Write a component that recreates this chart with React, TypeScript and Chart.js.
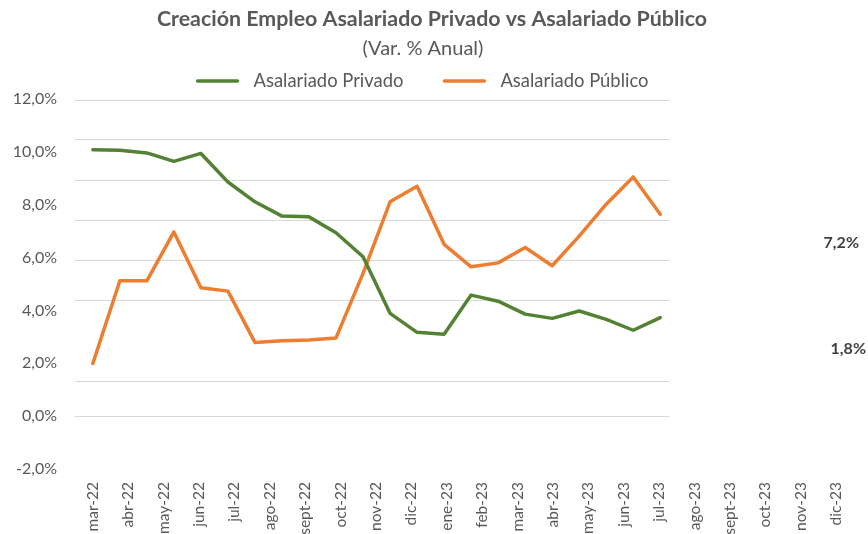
import React, { useEffect, useRef } from "react";
import { Chart, registerables } from "chart.js";

Chart.register(...registerables);

const months = [
  "mar-22", "abr-22", "may-22", "jun-22", "jul-22", "ago-22", "sept-22", "oct-22",
  "nov-22", "dic-22", "ene-23", "feb-23", "mar-23", "abr-23", "may-23", "jun-23",
  "jul-23", "ago-23", "sept-23", "oct-23", "nov-23", "dic-23",
];

const privado = [
  10.08, 10.06, 9.96, 9.64, 9.94, 8.86, 8.11, 7.57, 7.54, 6.94, 6.03,
  3.89, 3.17, 3.1, 4.58, 4.35, 3.86, 3.7, 3.98, 3.66, 3.25, 3.73,
];

const publico = [
  1.99, 5.12, 5.12, 6.97, 4.86, 4.73, 2.79, 2.85, 2.88, 2.96, 5.4,
  8.11, 8.7, 6.5, 5.65, 5.8, 6.38, 5.69, 6.81, 8.02, 9.05, 7.64,
];

const yTicks = [-2, 0, 2, 4, 6, 8, 10, 12];
const gridValues = [11.98, 10.47, 8.95, 7.43, 5.9, 4.39, 1.32, 0];

const seriesNames = ["Asalariado Privado", "Asalariado Público"];
const seriesColors = ["#548235", "#ED7D31"];

const endLabels = ["7,2%", "1,8%"];
const endLabelValues = [6.55, 2.53];

const titleText = "Creación Empleo Asalariado Privado vs Asalariado Público";
const subtitleText = "(Var. % Anual)";

const FONT = "Lato, 'Open Sans', sans-serif";
const TEXT = "#595959";

const fmt = (v: number) => v.toFixed(1).replace(".", ",") + "%";

const decor = {
  id: "decor",
  beforeDatasetsDraw(chart: any) {
    const ctx = chart.ctx;
    const y = chart.scales.y;
    const xd = chart.scales.xd;
    const left = chart.chartArea.left;
    const right = xd.getPixelForValue(privado.length - 1 + 0.33);
    ctx.save();
    ctx.strokeStyle = "#D9D9D9";
    ctx.lineWidth = 1.2;
    gridValues.forEach((v) => {
      const py = Math.round(y.getPixelForValue(v)) + 0.5;
      ctx.beginPath();
      ctx.moveTo(left, py);
      ctx.lineTo(right, py);
      ctx.stroke();
    });
    ctx.restore();
  },
  afterDraw(chart: any) {
    const ctx = chart.ctx;
    ctx.save();
    ctx.textBaseline = "middle";
    ctx.fillStyle = TEXT;
    // title
    ctx.font = `bold 21.4px ${FONT}`;
    ctx.textAlign = "center";
    ctx.fillText(titleText, 432, 19);
    ctx.font = `20px ${FONT}`;
    ctx.fillText(subtitleText, 423, 49);
    // legend
    ctx.font = `18.4px ${FONT}`;
    ctx.textAlign = "left";
    const lineW = 40;
    const gapText = 16;
    const gapItem = 41;
    const w0 = ctx.measureText(seriesNames[0]).width;
    const w1 = ctx.measureText(seriesNames[1]).width;
    const total = lineW + gapText + w0 + gapItem + lineW + gapText + w1;
    let x = 423 - total / 2;
    const ly = 81;
    [0, 1].forEach((i) => {
      ctx.strokeStyle = seriesColors[i];
      ctx.lineWidth = 3.5;
      ctx.lineCap = "round";
      ctx.beginPath();
      ctx.moveTo(x, ly);
      ctx.lineTo(x + lineW, ly);
      ctx.stroke();
      x += lineW + gapText;
      ctx.fillStyle = TEXT;
      ctx.fillText(seriesNames[i], x, ly);
      x += (i === 0 ? w0 : w1) + gapItem;
    });
    // end labels
    const y = chart.scales.y;
    ctx.font = `bold 16px ${FONT}`;
    ctx.fillStyle = "#404040";
    ctx.textAlign = "right";
    const ex = [859, 866];
    endLabels.forEach((t, i) => {
      ctx.fillText(t, ex[i], y.getPixelForValue(endLabelValues[i]));
    });
    ctx.restore();
  },
};

export default function App() {
  const ref = useRef<HTMLCanvasElement | null>(null);

  useEffect(() => {
    if (!ref.current) return;
    const mk = (vals: number[]) => vals.map((v, i) => ({ x: i, y: v }));
    const chart = new Chart(ref.current, {
      type: "line",
      data: {
        labels: months,
        datasets: [
          {
            label: seriesNames[0],
            data: mk(privado),
            borderColor: seriesColors[0],
            backgroundColor: seriesColors[0],
            borderWidth: 3.5,
            pointRadius: 0,
            tension: 0,
            borderCapStyle: "round",
            borderJoinStyle: "round",
            xAxisID: "xd",
          },
          {
            label: seriesNames[1],
            data: mk(publico),
            borderColor: seriesColors[1],
            backgroundColor: seriesColors[1],
            borderWidth: 3.5,
            pointRadius: 0,
            tension: 0,
            borderCapStyle: "round",
            borderJoinStyle: "round",
            xAxisID: "xd",
          },
        ] as any,
      },
      options: {
        animation: false,
        responsive: false,
        layout: { padding: { top: 99, right: 5, left: 0, bottom: 0 } },
        plugins: {
          legend: { display: false },
          title: { display: false },
          tooltip: { enabled: false },
        },
        scales: {
          x: {
            type: "category",
            offset: true,
            grid: { display: false, drawTicks: false },
            border: { display: false },
            ticks: {
              autoSkip: false,
              minRotation: 90,
              maxRotation: 90,
              padding: 13,
              color: TEXT,
              font: { family: FONT, size: 15.5 },
            },
            afterFit: (s: any) => {
              s.height = 65;
            },
          },
          xd: {
            type: "linear",
            display: false,
            min: -0.66,
            max: 28.17,
          },
          y: {
            min: -2,
            max: 12,
            grid: { display: false, drawTicks: false },
            border: { display: false },
            afterBuildTicks: (s: any) => {
              s.ticks = yTicks.map((v) => ({ value: v }));
            },
            ticks: {
              padding: 18,
              color: TEXT,
              font: { family: FONT, size: 16 },
              callback: (v: any) => fmt(Number(v)),
            },
            afterFit: (s: any) => {
              s.width = 75;
            },
          },
        },
      } as any,
      plugins: [decor],
    });
    return () => chart.destroy();
  }, []);

  return (
    <div style={{ position: "absolute", left: 0, top: 0, width: 868, height: 534, background: "#fff" }}>
      <canvas ref={ref} width={868} height={534} style={{ display: "block" }} />
    </div>
  );
}
